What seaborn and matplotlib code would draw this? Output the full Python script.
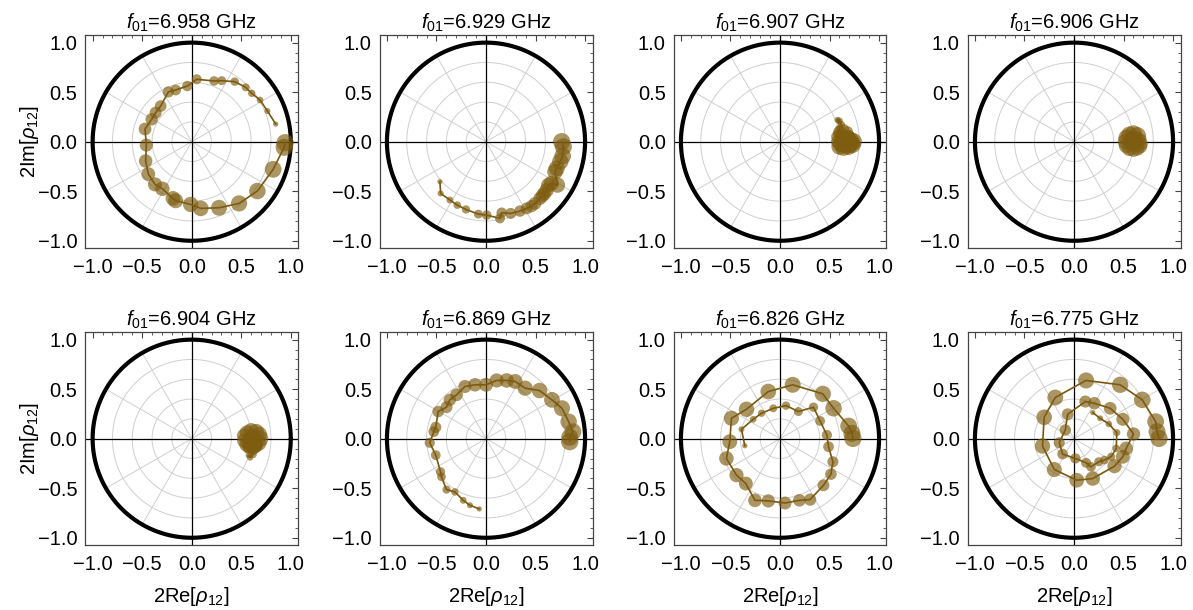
import numpy as np
import pandas as pd
import matplotlib
matplotlib.use("Agg")
import matplotlib.pyplot as plt
from matplotlib.ticker import MultipleLocator
import seaborn as sns

# ---------------- data ----------------
freqs = ["6.958", "6.929", "6.907", "6.906", "6.904", "6.869", "6.826", "6.775"]

p1_re = [0.848, 0.764, 0.690, 0.606, 0.545, 0.434, 0.303, 0.226, 0.051, -0.044, -0.162, -0.236,
         -0.313, -0.364, -0.404, -0.471, -0.458, -0.465, -0.438, -0.370, -0.296, -0.189, -0.162,
         -0.010, 0.091, 0.276, 0.478, 0.663, 0.822, 0.933, 0.943]
p1_im = [0.178, 0.310, 0.421, 0.488, 0.549, 0.606, 0.616, 0.613, 0.630, 0.562, 0.522, 0.502,
         0.360, 0.293, 0.226, 0.128, -0.034, -0.195, -0.327, -0.431, -0.475, -0.572, -0.596,
         -0.633, -0.673, -0.667, -0.623, -0.498, -0.279, -0.057, -0.010]

p2_re = [-0.465, -0.458, -0.364, -0.290, -0.202, -0.077, 0.007, 0.141, 0.158, 0.249, 0.343, 0.411,
         0.460, 0.495, 0.545, 0.570, 0.589, 0.613, 0.630, 0.660, 0.721, 0.697, 0.714, 0.750,
         0.774, 0.781, 0.764]
p2_im = [-0.404, -0.522, -0.589, -0.640, -0.684, -0.731, -0.741, -0.774, -0.717, -0.724, -0.700, -0.673,
         -0.650, -0.623, -0.572, -0.545, -0.522, -0.488, -0.438, -0.420, -0.438, -0.303, -0.269, -0.200,
         -0.145, -0.051, 0.000]

p3_re = [0.60, 0.58, 0.60, 0.62, 0.60, 0.58, 0.60, 0.64, 0.68, 0.70, 0.68, 0.64, 0.60, 0.58,
         0.58, 0.62, 0.67, 0.71, 0.73, 0.72, 0.69, 0.65, 0.61, 0.60, 0.64, 0.69, 0.73, 0.74]
p3_im = [0.20, 0.22, 0.21, 0.17, 0.13, 0.08, 0.04, 0.02, 0.03, 0.06, 0.10, 0.12, 0.10, 0.05,
         0.00, -0.04, -0.05, -0.04, -0.01, 0.02, 0.04, 0.02, -0.02, -0.05, -0.06, -0.05, -0.03, 0.00]

p4_re = [0.60, 0.62, 0.63, 0.62, 0.59, 0.57, 0.56, 0.57, 0.60, 0.64, 0.67, 0.68, 0.67, 0.64,
         0.60, 0.56, 0.53, 0.52, 0.53, 0.56, 0.60, 0.64]
p4_im = [0.00, 0.02, 0.00, -0.02, -0.03, -0.01, 0.02, 0.04, 0.05, 0.04, 0.02, -0.02, -0.05, -0.07,
         -0.08, -0.07, -0.04, 0.00, 0.04, 0.07, 0.08, 0.06]

p5_re = [0.57, 0.59, 0.62, 0.60, 0.57, 0.55, 0.56, 0.60, 0.64, 0.66, 0.65, 0.62, 0.58, 0.55,
         0.53, 0.53, 0.56, 0.60, 0.65, 0.68, 0.69, 0.67, 0.63]
p5_im = [-0.17, -0.19, -0.16, -0.12, -0.10, -0.06, -0.02, 0.00, -0.02, -0.05, -0.08, -0.10, -0.09, -0.06,
         -0.02, 0.03, 0.06, 0.08, 0.07, 0.04, 0.00, -0.04, -0.06]

p6_re = [-0.068, -0.162, -0.230, -0.314, -0.399, -0.449, -0.459, -0.507, -0.568, -0.527, -0.507, -0.483,
         -0.399, -0.365, -0.297, -0.213, -0.111, 0.000, 0.108, 0.209, 0.294, 0.395, 0.541, 0.666,
         0.767, 0.834, 0.878, 0.845, 0.845]
p6_im = [-0.709, -0.672, -0.622, -0.537, -0.514, -0.385, -0.334, -0.166, -0.041, 0.071, 0.115, 0.274,
         0.318, 0.392, 0.443, 0.527, 0.544, 0.544, 0.588, 0.588, 0.578, 0.510, 0.486, 0.392,
         0.307, 0.172, 0.071, 0.014, -0.030]

p7_re = [-0.355, -0.389, -0.270, -0.186, -0.068, 0.061, 0.186, 0.338, 0.405, 0.473, 0.490, 0.534,
         0.514, 0.439, 0.304, 0.196, 0.051, -0.118, -0.253, -0.345, -0.439, -0.541, -0.507, -0.490,
         -0.338, -0.118, 0.128, 0.432, 0.541, 0.693, 0.726, 0.736]
p7_im = [-0.071, 0.095, 0.196, 0.257, 0.307, 0.334, 0.274, 0.318, 0.179, 0.037, -0.081, -0.233,
         -0.358, -0.470, -0.615, -0.622, -0.649, -0.628, -0.622, -0.453, -0.368, -0.199, -0.030, 0.206,
         0.297, 0.476, 0.544, 0.453, 0.307, 0.128, 0.054, 0.003]

p8_re = [0.189, 0.264, 0.351, 0.432, 0.426, 0.375, 0.307, 0.250, 0.172, 0.122, 0.014, -0.115,
         -0.149, -0.088, -0.064, 0.115, 0.206, 0.365, 0.493, 0.601, 0.527, 0.493, 0.409, 0.189,
         0.027, -0.199, -0.318, -0.301, -0.189, 0.122, 0.466, 0.689, 0.824, 0.838, 0.858]
p8_im = [0.264, 0.206, 0.149, 0.061, -0.098, -0.182, -0.216, -0.233, -0.284, -0.243, -0.199, -0.155,
         -0.041, 0.088, 0.247, 0.375, 0.358, 0.307, 0.196, 0.047, -0.098, -0.182, -0.277, -0.402,
         -0.419, -0.311, -0.074, 0.216, 0.416, 0.588, 0.544, 0.392, 0.172, 0.071, 0.003]

panels = [(p1_re, p1_im), (p2_re, p2_im), (p3_re, p3_im), (p4_re, p4_im),
          (p5_re, p5_im), (p6_re, p6_im), (p7_re, p7_im), (p8_re, p8_im)]

# ---------------- style ----------------
sns.set_theme(style="white")
plt.rcParams["font.family"] = ["Liberation Sans", "DejaVu Sans"]
plt.rcParams["mathtext.fontset"] = "custom"
plt.rcParams["mathtext.rm"] = "Liberation Sans"
plt.rcParams["mathtext.it"] = "Liberation Sans:italic"
plt.rcParams["axes.unicode_minus"] = True
plt.rcParams["text.color"] = "black"
plt.rcParams["axes.labelcolor"] = "black"

W, H = 1193, 610
fig = plt.figure(figsize=(W / 100, H / 100), dpi=100)

col_centers = [191.7, 486.0, 780.0, 1074.0]
row_centers = [141.7, 438.7]
half = 106.5
lim = 1.075
fs = 14.5

dot_color = "#7e5c10"
line_color = "#7a580e"
grid_color = "#cfcfcf"

theta = np.linspace(0, 2 * np.pi, 721)

for i, (re, im) in enumerate(panels):
    r, c = divmod(i, 4)
    cx, cy = col_centers[c], row_centers[r]
    ax = fig.add_axes([(cx - half) / W, 1 - (cy + half) / H, 2 * half / W, 2 * half / H])

    # polar grid
    for rr in [0.2, 0.4, 0.6, 0.8]:
        ax.plot(rr * np.cos(theta), rr * np.sin(theta), color=grid_color, lw=0.7, zorder=1)
    for a in np.deg2rad(np.arange(0, 360, 30)):
        ax.plot([0, np.cos(a)], [0, np.sin(a)], color=grid_color, lw=0.7, zorder=1)
    ax.axhline(0, color="black", lw=0.9, zorder=2)
    ax.axvline(0, color="black", lw=0.9, zorder=2)
    ax.plot(np.cos(theta), np.sin(theta), color="black", lw=3.0, zorder=2)

    df = pd.DataFrame({"re": re, "im": im, "t": np.arange(len(re))})
    sns.lineplot(data=df, x="re", y="im", sort=False, estimator=None, color=line_color,
                 lw=1.2, ax=ax, zorder=3)
    sns.scatterplot(data=df, x="re", y="im", size="t", sizes=(14, 155),
                    size_norm=(0, len(re) - 1), color=dot_color, alpha=0.65, linewidth=0,
                    legend=False, ax=ax, zorder=4)

    ax.set_xlim(-lim, lim)
    ax.set_ylim(-lim, lim)
    ax.set_xticks([-1, -0.5, 0, 0.5, 1])
    ax.set_yticks([-1, -0.5, 0, 0.5, 1])
    ax.xaxis.set_minor_locator(MultipleLocator(0.1))
    ax.yaxis.set_minor_locator(MultipleLocator(0.1))
    ax.tick_params(which="both", direction="in", top=True, right=True, color="#444444",
                   labelsize=fs, labelcolor="black")
    ax.tick_params(which="major", length=4.5, width=0.8)
    ax.tick_params(which="minor", length=2.5, width=0.6)
    ax.tick_params(axis="x", pad=7)
    ax.tick_params(axis="y", pad=5.5)
    for s in ax.spines.values():
        s.set_color("#444444")
        s.set_linewidth(0.9)

    ax.set_title(r"$f_{01}$=" + freqs[i] + " GHz", fontsize=fs, pad=4.5, color="black")
    ax.set_xlabel(r"2Re[$\rho_{12}$]" if r == 1 else "", fontsize=fs, labelpad=8)
    ax.set_ylabel(r"2Im[$\rho_{12}$]" if c == 0 else "", fontsize=fs, labelpad=-2)

fig.savefig("out.png", dpi=100)
